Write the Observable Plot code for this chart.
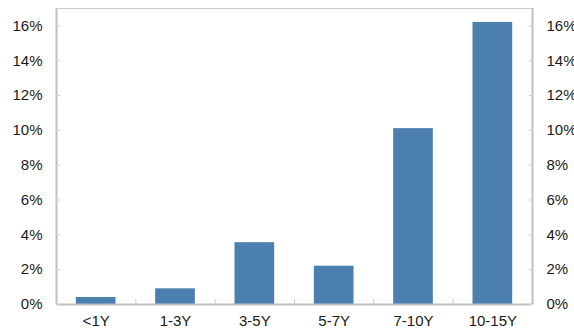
<!DOCTYPE html>
<html>
<head>
<meta charset="utf-8">
<script src="https://cdn.jsdelivr.net/npm/d3@7"></script>
<script src="https://cdn.jsdelivr.net/npm/@observablehq/plot@0.6"></script>
<style>
  html, body { margin: 0; padding: 0; background: #fff; }
</style>
</head>
<body>
<div id="chart"></div>
<script>
const categories = ["<1Y", "1-3Y", "3-5Y", "5-7Y", "7-10Y", "10-15Y"];
const values = [0.4, 0.9, 3.55, 2.2, 10.1, 16.2];
const yTicks = [0, 2, 4, 6, 8, 10, 12, 14, 16];

const data = categories.map((c, i) => ({ c, i, v: values[i] }));
const centers = categories.map((c, i) => i + 0.5);
const separators = categories.slice(1).map((c, i) => i + 1);

const fmt = d => d + "%";
const gray = "#c0c0c0";

const chart = Plot.plot({
  width: 574,
  height: 332,
  marginLeft: 56,
  marginRight: 42,
  marginTop: 8,
  marginBottom: 28,
  style: { fontFamily: "'Liberation Sans', Arial, sans-serif", fontSize: "15px", color: "#1a1a1a", background: "#fff" },
  x: { domain: [0, categories.length], axis: null },
  y: { domain: [0, 17], axis: null },
  marks: [
    Plot.frame({ stroke: "#cccccc" }),
    Plot.rectY(data, { x1: d => d.i + 0.25, x2: d => d.i + 0.75, y: "v", fill: "#4a7fb0" }),
    Plot.ruleX([0, categories.length], { stroke: gray, strokeWidth: 2 }),
    Plot.ruleY([0], { stroke: gray, strokeWidth: 2 }),
    Plot.axisY(yTicks, { anchor: "left", label: null, tickSize: 0, tickPadding: 14, tickFormat: fmt, fontSize: 15 }),
    Plot.axisY(yTicks, { anchor: "right", label: null, tickSize: 0, tickPadding: 14, tickFormat: fmt, fontSize: 15 }),
    Plot.axisY(yTicks, { anchor: "left", label: null, tickSize: -4, tickFormat: () => "", stroke: "#d0d0d0" }),
    Plot.axisY(yTicks, { anchor: "right", label: null, tickSize: -4, tickFormat: () => "", stroke: "#d0d0d0" }),
    Plot.axisX(centers, { anchor: "bottom", label: null, tickSize: 0, tickPadding: 11, tickFormat: d => categories[Math.floor(d)], fontSize: 15 }),
    Plot.axisX(separators, { anchor: "bottom", label: null, tickSize: -5, tickFormat: () => "", stroke: "#c8c8c8" })
  ]
});
document.getElementById("chart").appendChild(chart);
</script>
</body>
</html>
